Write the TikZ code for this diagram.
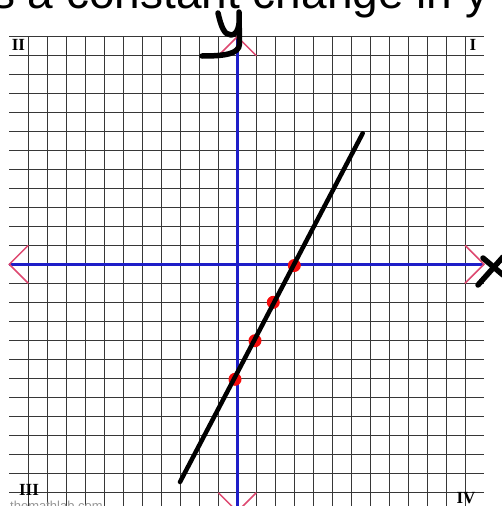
\documentclass[tikz,border=0pt]{standalone}
\usepackage{fontspec}
\setmainfont{Liberation Serif}
\setsansfont{Liberation Sans}
\usetikzlibrary{arrows.meta,positioning}
\definecolor{Grid}{RGB}{55,55,55}
\definecolor{AxisBlue}{RGB}{30,30,200}
\definecolor{Tip}{RGB}{222,72,112}
\definecolor{Dot}{RGB}{245,12,12}
\definecolor{Stamp}{RGB}{150,150,150}

\begin{document}
\begin{tikzpicture}[
  x=1pt, y=-1pt,
  gridline/.style={Grid, line width=1.5pt},
  axis/.style={AxisBlue, line width=3pt},
  chevron/.style={Tip, line width=1.5pt, line join=miter},
  quadrant/.style={font=\bfseries\fontsize{17}{17}\selectfont, anchor=base, inner sep=0pt},
  pen/.style={black, line width=5.5pt, line cap=round, line join=round},
  point/.style={circle, fill=Dot, minimum size=13pt, inner sep=0pt}
]
  \useasboundingbox (0,0) rectangle (502,506);
  \clip (0,0) rectangle (502,506);
  \fill[white] (0,0) rectangle (502,506);

  % grid
  \foreach \k in {0,...,24}
    \draw[gridline] (9.3,36.7+19*\k) -- (484,36.7+19*\k);
  \foreach \k in {0,...,23}
    \draw[gridline] (28.3+19*\k,36.7) -- (28.3+19*\k,512);

  % axes
  \coordinate (xl) at (9.3,264.3);
  \coordinate (xr) at (484,264.3);
  \coordinate (yt) at (237.3,36.7);
  \coordinate (yb) at (237.3,511.7);
  \draw[axis] (xl) -- (xr);
  \draw[axis] (yt) -- (yb);
  \draw[chevron] ([shift={(-19,-19)}]xr) -- (xr) -- ([shift={(-19,19)}]xr);
  \draw[chevron] ([shift={(19,-19)}]xl) -- (xl) -- ([shift={(19,19)}]xl);
  \draw[chevron] ([shift={(-19,19)}]yt) -- (yt) -- ([shift={(19,19)}]yt);
  \draw[chevron] ([shift={(-19,-19)}]yb) -- (yb) -- ([shift={(19,-19)}]yb);

  \node[quadrant] (q2) at (18.5,50) {II};
  \node[quadrant] (q1) at (473,50) {I};
  \node[quadrant] (q3) at (29,495) {III};
  \node[quadrant] (q4) at (466,503) {IV};
  \node[anchor=base west, inner sep=0pt, text=Stamp,
    font=\sffamily\fontsize{13}{13}\selectfont] (stamp) at (10,510) {themathlab.com};

  \node[anchor=base west, inner sep=0pt,
    font=\sffamily\fontsize{46}{46}\selectfont] (title) at (-8,8.3) {s a constant change in y};

  % points and line
  \node[point] (p1) at (294.3,265.5) {};
  \node[point] (p2) at (273.3,302.3) {};
  \node[point] (p3) at (255,340.7) {};
  \node[point] (p4) at (235,379.3) {};
  \coordinate (lo) at (180,482);
  \coordinate (hi) at (362.7,133.3);
  \draw[pen, line width=4.5pt] (lo) -- (hi);

  % handwriting
  \draw[pen] (218,13) .. controls (221,26) and (224,35) .. (231,35)
    .. controls (236,35) and (238,30) .. (239,24);
  \draw[pen] (239,12) -- (239.5,44) .. controls (239,54) and (225,56) .. (202,56);
  \draw[pen] (483,258) -- (503,275);
  \draw[pen] (478,285) -- (503,257);
\end{tikzpicture}
\end{document}
